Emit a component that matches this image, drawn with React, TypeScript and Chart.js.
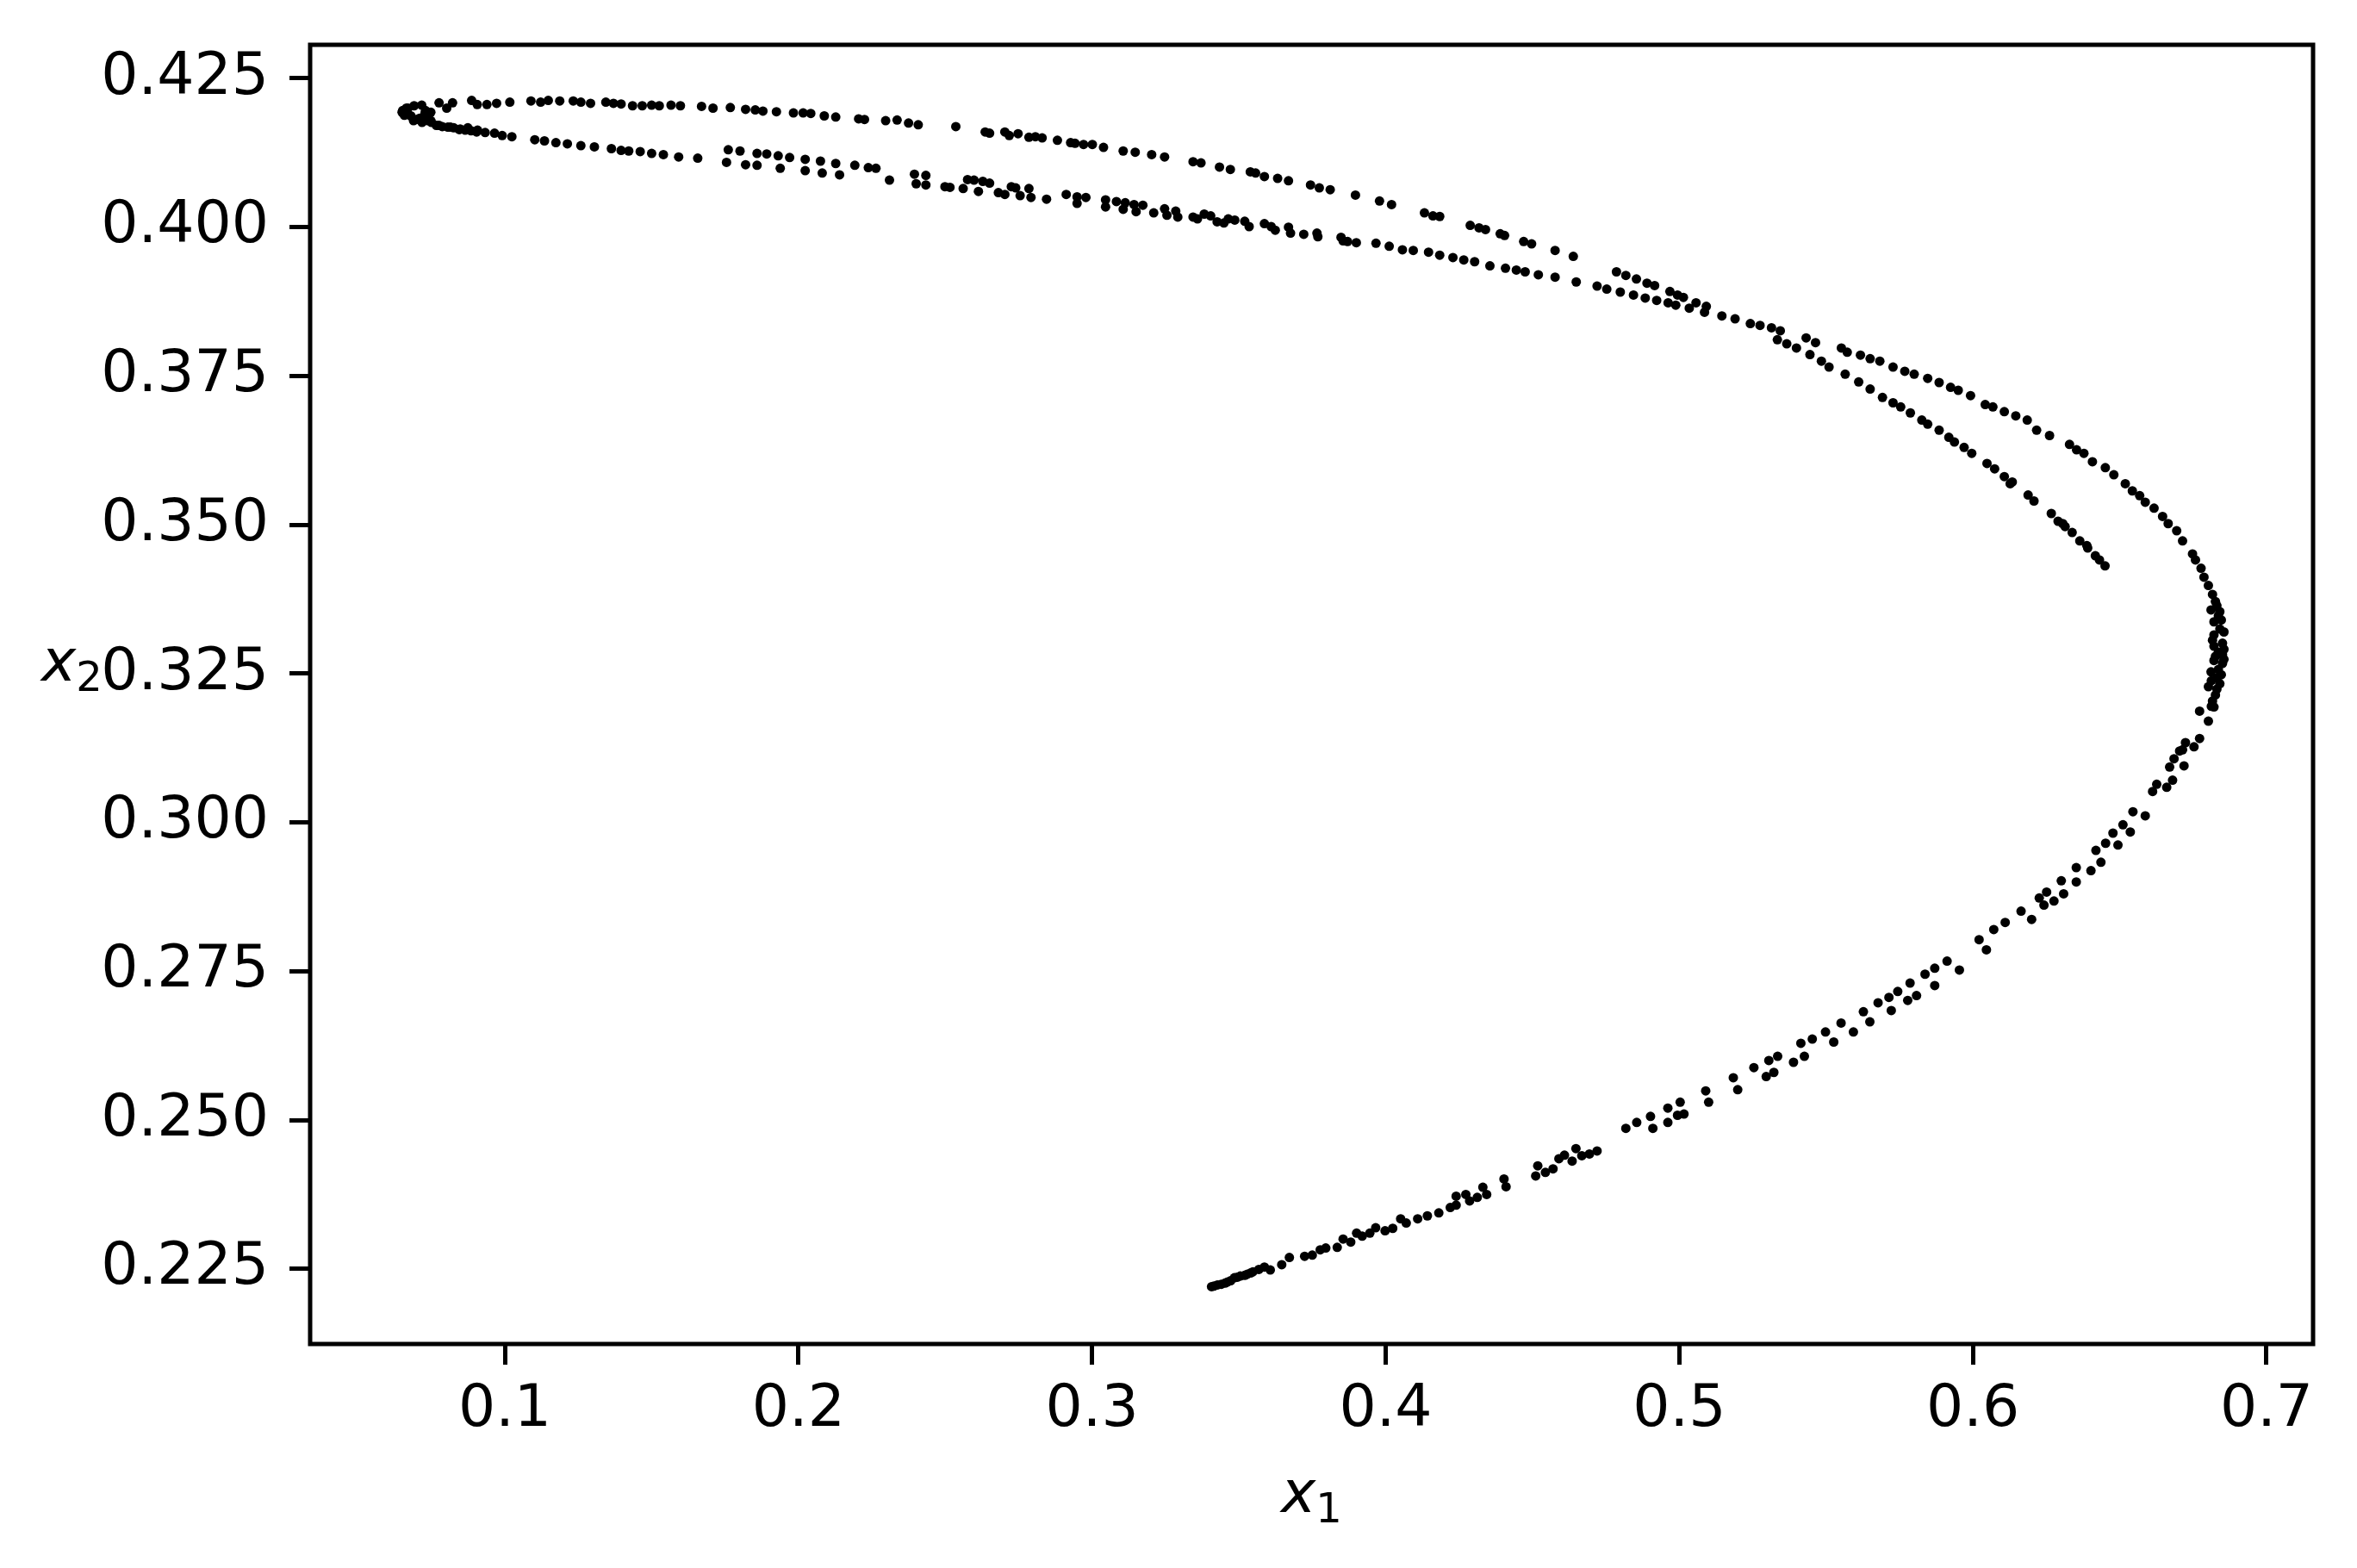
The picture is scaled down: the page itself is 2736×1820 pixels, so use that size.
import React, { useEffect, useRef } from "react";
import { Chart, registerables } from "chart.js";

Chart.register(...registerables);

// Axis ticks and limits
const xTicks = [0.1, 0.2, 0.3, 0.4, 0.5, 0.6, 0.7];
const yTicks = [0.225, 0.25, 0.275, 0.3, 0.325, 0.35, 0.375, 0.4, 0.425];
const xLimits = [0.03369, 0.71585];
const yLimits = [0.21237, 0.43064];

// Upper outer arm (from the left tip towards the bend)
const topUpper: [number, number][] = [
  [0.065, 0.4193], [0.067, 0.42], [0.0728, 0.4191], [0.0748, 0.4193],
  [0.0652, 0.4196], [0.0665, 0.42], [0.0691, 0.4204], [0.0717, 0.4205], [0.073, 0.4196], [0.0776, 0.4209], [0.0802, 0.42],
  [0.0822, 0.4209], [0.0887, 0.4213], [0.0906, 0.4206], [0.0939, 0.4206], [0.0972, 0.4208], [0.1017, 0.421],
  [0.1089, 0.4212], [0.1122, 0.421], [0.1148, 0.4213], [0.1187, 0.4212], [0.1233, 0.4212], [0.1259, 0.421],
  [0.1292, 0.4208], [0.1344, 0.421], [0.137, 0.4208], [0.1396, 0.4207], [0.1435, 0.4204], [0.1468, 0.4204],
  [0.15, 0.4205], [0.1526, 0.4204], [0.1566, 0.4205], [0.1598, 0.4204], [0.167, 0.4203], [0.1709, 0.42],
  [0.1768, 0.4201], [0.182, 0.4198], [0.1853, 0.4197], [0.1879, 0.4195], [0.1925, 0.4194], [0.1983, 0.4192],
  [0.2016, 0.4192], [0.2042, 0.4191], [0.2088, 0.4187], [0.2127, 0.4185], [0.2205, 0.4182], [0.2225, 0.4181],
  [0.2297, 0.4179], [0.2336, 0.418], [0.2375, 0.4175], [0.2408, 0.4172],
  [0.2536, 0.4169], [0.2636, 0.416], [0.2651, 0.4158], [0.2703, 0.416], [0.2718, 0.4154], [0.2748, 0.4157],
  [0.2785, 0.4151], [0.2807, 0.4152], [0.283, 0.415], [0.2882, 0.4146], [0.2927, 0.4142], [0.2942, 0.4141],
  [0.2971, 0.4139], [0.3001, 0.4139], [0.3039, 0.4134], [0.3106, 0.4128], [0.3147, 0.4126], [0.3203, 0.4122],
  [0.3247, 0.4118], [0.3344, 0.411], [0.3371, 0.4108], [0.3434, 0.4101], [0.3471, 0.4097], [0.3539, 0.4093],
  [0.3557, 0.4091], [0.3587, 0.4085], [0.3632, 0.4082], [0.3669, 0.4078], [0.3744, 0.4071], [0.3774, 0.4066],
  [0.3811, 0.4063], [0.3897, 0.4054], [0.3979, 0.4044], [0.402, 0.4038], [0.4132, 0.4024], [0.4161, 0.4019],
  [0.4184, 0.4018], [0.4288, 0.4003], [0.4318, 0.3999], [0.434, 0.3996], [0.439, 0.3989], [0.4405, 0.3986],
  [0.447, 0.3976], [0.4497, 0.3972], [0.4577, 0.3961], [0.4639, 0.3951],
  [0.4786, 0.3925], [0.4818, 0.3919], [0.4854, 0.3913], [0.489, 0.3906], [0.4916, 0.3902], [0.4968, 0.3892],
  [0.4994, 0.3886], [0.5014, 0.3882], [0.5057, 0.3873], [0.5092, 0.3867],
];

// Lower arm near the tip
const topLower: [number, number][] = [
  [0.066, 0.4193], [0.067, 0.419], [0.068, 0.4187], [0.071, 0.4183], [0.075, 0.4176],
  [0.0689, 0.4179], [0.0718, 0.4176], [0.0748, 0.4179], [0.0767, 0.4171], [0.0787, 0.4169], [0.0806, 0.4168],
  [0.0826, 0.4167], [0.0845, 0.4164], [0.0865, 0.4163], [0.0885, 0.4162], [0.0904, 0.416],
  [0.0658, 0.4188], [0.0698, 0.4181], [0.0737, 0.4179], [0.0776, 0.4171], [0.0815, 0.4168], [0.0848, 0.4165],
  [0.0874, 0.4167], [0.0907, 0.4163], [0.0933, 0.4159], [0.0965, 0.4158], [0.0991, 0.4154], [0.1024, 0.4152],
  [0.1102, 0.4147], [0.1135, 0.4145], [0.1174, 0.4142], [0.1213, 0.414], [0.1259, 0.4137], [0.1305, 0.4135],
  [0.1363, 0.4132], [0.1396, 0.4129], [0.1422, 0.4128], [0.1461, 0.4127], [0.15, 0.4124], [0.154, 0.4122],
  [0.1592, 0.4118], [0.1657, 0.4116],
];

// Lower arm, upper strand
const splitA: [number, number][] = [
  [0.1761, 0.413], [0.1801, 0.4128], [0.1859, 0.4124], [0.1892, 0.4123], [0.1931, 0.412], [0.197, 0.4117],
  [0.2023, 0.4114], [0.2075, 0.4111], [0.2127, 0.4107], [0.2192, 0.4104], [0.2238, 0.41], [0.2264, 0.4099],
  [0.2395, 0.4089], [0.2434, 0.4087],
  [0.2576, 0.408], [0.2598, 0.4079], [0.2628, 0.4077], [0.2651, 0.4074], [0.2725, 0.4068], [0.274, 0.4066],
  [0.2785, 0.4065], [0.2912, 0.4055], [0.2949, 0.4051], [0.2979, 0.405], [0.3046, 0.4046], [0.3083, 0.4043],
  [0.3113, 0.4041], [0.3143, 0.4038], [0.3173, 0.4037], [0.3247, 0.4031], [0.3285, 0.4027], [0.3344, 0.4017],
  [0.3382, 0.4022], [0.3404, 0.4019], [0.3464, 0.4014], [0.3486, 0.4012], [0.352, 0.401], [0.3587, 0.4006],
  [0.361, 0.4001], [0.3669, 0.4], [0.3766, 0.399], [0.3848, 0.3983], [0.39, 0.3974], [0.3967, 0.3973],
  [0.4012, 0.3968], [0.4057, 0.3962], [0.4094, 0.3961], [0.4146, 0.3958], [0.4184, 0.3953], [0.4229, 0.3949],
  [0.4266, 0.3945], [0.4303, 0.3942], [0.4355, 0.3935], [0.4408, 0.3931], [0.4445, 0.3928], [0.4475, 0.3925],
  [0.452, 0.392],
];

// Lower arm, lower strand
const splitB: [number, number][] = [
  [0.1755, 0.4109], [0.182, 0.4105], [0.1859, 0.4104], [0.1938, 0.4099], [0.2023, 0.4095], [0.2081, 0.4091],
  [0.214, 0.4088], [0.231, 0.4079], [0.2401, 0.4073], [0.2434, 0.4071], [0.2499, 0.4068],
  [0.2516, 0.4067], [0.2561, 0.4065], [0.2613, 0.406], [0.2681, 0.4058], [0.2703, 0.4055], [0.2755, 0.4053],
  [0.2792, 0.405], [0.2845, 0.4047], [0.2949, 0.404], [0.3046, 0.4034], [0.3106, 0.403], [0.315, 0.4026],
  [0.321, 0.4024], [0.3255, 0.402], [0.3292, 0.4017], [0.3359, 0.4014], [0.3426, 0.4009], [0.3449, 0.4007],
  [0.3535, 0.4001], [0.3624, 0.3995], [0.3676, 0.399], [0.3721, 0.3988], [0.3769, 0.3984], [0.3855, 0.3977],
  [0.387, 0.3976],
];

// Merged band before the fork
const band: [number, number][] = [
  [0.4577, 0.3916], [0.4649, 0.3908], [0.472, 0.3901], [0.4753, 0.3896], [0.4799, 0.3891], [0.4844, 0.3886],
  [0.4884, 0.3881], [0.4923, 0.3877], [0.4962, 0.3873], [0.4988, 0.3869], [0.5034, 0.3864], [0.5086, 0.3857],
  [0.5145, 0.3851], [0.519, 0.3846], [0.5242, 0.3838], [0.5275, 0.3835], [0.5314, 0.3831], [0.5344, 0.3826],
];

// Outer curve around the right bend
const outerBend: [number, number][] = [
  [0.5432, 0.3814], [0.5464, 0.3806], [0.5552, 0.3797], [0.5572, 0.379], [0.5617, 0.3785], [0.565, 0.3779],
  [0.5683, 0.3775], [0.5728, 0.3765], [0.5768, 0.3758], [0.58, 0.3753], [0.5846, 0.3746], [0.5885, 0.3739],
  [0.5924, 0.3731], [0.595, 0.3726], [0.5992, 0.3717], [0.6042, 0.3702], [0.6068, 0.3698], [0.6107, 0.369],
  [0.6146, 0.3683], [0.6185, 0.3676],
  [0.6217, 0.3659], [0.6261, 0.365], [0.6329, 0.3635], [0.6353, 0.3626], [0.6378, 0.362], [0.6407, 0.3606],
  [0.6451, 0.3596], [0.648, 0.3584], [0.6519, 0.3569], [0.6543, 0.3557], [0.6568, 0.3549], [0.6587, 0.3538],
  [0.6617, 0.3528], [0.6646, 0.3514], [0.6665, 0.3502], [0.6694, 0.349], [0.6714, 0.3473], [0.6748, 0.3451],
  [0.6758, 0.3441], [0.6777, 0.3427], [0.6787, 0.3412], [0.6802, 0.3398], [0.6816, 0.3383], [0.6826, 0.3371],
  [0.6811, 0.3357], [0.6836, 0.3347], [0.6821, 0.3337], [0.6841, 0.3325], [0.6821, 0.3315], [0.685, 0.3301],
  [0.6821, 0.3296], [0.685, 0.3282], [0.6821, 0.3272], [0.685, 0.3267], [0.6811, 0.3253], [0.6846, 0.3248],
  [0.6802, 0.3228], [0.6841, 0.3233], [0.6826, 0.3214], [0.6821, 0.3194], [0.6772, 0.3187], [0.6802, 0.317],
  [0.6772, 0.3141], [0.6753, 0.3127], [0.6724, 0.3134], [0.6714, 0.3122], [0.6704, 0.312], [0.6685, 0.3107],
  [0.6719, 0.3095], [0.667, 0.3093], [0.668, 0.3071], [0.6626, 0.3064], [0.666, 0.3059],
  [0.6831, 0.3364], [0.6841, 0.3354], [0.6846, 0.334], [0.6855, 0.332], [0.6816, 0.3306], [0.6855, 0.3291],
  [0.6836, 0.3286], [0.6826, 0.3279], [0.6855, 0.3274], [0.6836, 0.3257], [0.6831, 0.3243], [0.6812, 0.3238],
  [0.6831, 0.3224], [0.6816, 0.3204], [0.6812, 0.3195],
];

// Inner strand that ends inside the bend
const innerBend: [number, number][] = [
  [0.5334, 0.3811], [0.5366, 0.3804], [0.5399, 0.3797], [0.5445, 0.3786], [0.5484, 0.3775], [0.551, 0.3765],
  [0.5565, 0.3753], [0.5611, 0.374], [0.565, 0.3728], [0.5692, 0.3714], [0.5728, 0.3705], [0.5754, 0.3698],
  [0.5787, 0.3688], [0.5826, 0.3676], [0.5846, 0.3669], [0.5885, 0.3659], [0.5918, 0.3647], [0.5937, 0.3639],
  [0.597, 0.363], [0.5996, 0.362], [0.6048, 0.3603], [0.6074, 0.3594], [0.6107, 0.3581], [0.6127, 0.3569],
  [0.6134, 0.3572], [0.6188, 0.355], [0.6208, 0.354], [0.6267, 0.3519], [0.629, 0.3506], [0.6306, 0.3502],
  [0.6314, 0.3497], [0.6338, 0.3487], [0.6364, 0.3473], [0.6388, 0.3465], [0.6391, 0.3461], [0.6417, 0.3448],
  [0.6431, 0.3441], [0.645, 0.3431],
];

// Lower arm, two strands (right part)
const lowA: [number, number][] = [
  [0.4818, 0.2486], [0.4855, 0.2496], [0.4902, 0.2506], [0.4961, 0.252], [0.5003, 0.253], [0.509, 0.2549],
  [0.5184, 0.2571], [0.5254, 0.2588], [0.5305, 0.26], [0.5335, 0.2607], [0.5414, 0.2629], [0.5453, 0.2636],
  [0.5498, 0.2648], [0.5551, 0.2663], [0.5627, 0.2682], [0.5677, 0.2697], [0.5714, 0.2706], [0.5744, 0.2716],
  [0.5786, 0.273], [0.5837, 0.2745], [0.587, 0.2755], [0.5912, 0.2767], [0.6021, 0.2803], [0.6071, 0.282],
  [0.611, 0.2832], [0.6164, 0.2851], [0.6226, 0.2873], [0.6251, 0.2883], [0.6301, 0.2902], [0.6352, 0.2924],
  [0.6419, 0.2953], [0.6452, 0.2965], [0.6477, 0.2982], [0.6511, 0.2996], [0.6545, 0.3018], [0.6612, 0.3052],
];
const lowB: [number, number][] = [
  [0.491, 0.2486], [0.4961, 0.2496], [0.4994, 0.2508], [0.5016, 0.251], [0.51, 0.253], [0.5199, 0.2551],
  [0.5296, 0.2573], [0.5322, 0.258], [0.5389, 0.2597], [0.5426, 0.2607], [0.5526, 0.2631], [0.5593, 0.2648],
  [0.5649, 0.2665], [0.5722, 0.2684], [0.5778, 0.2701], [0.5808, 0.2709], [0.587, 0.2726], [0.5954, 0.2752],
  [0.6046, 0.2786], [0.62, 0.2837], [0.6242, 0.2861], [0.6276, 0.2868], [0.6309, 0.288], [0.6352, 0.29],
  [0.6402, 0.2919], [0.6436, 0.2933], [0.6494, 0.2962], [0.6536, 0.2984], [0.6587, 0.3011],
];

// Lower arm, left end
const lowEnd: [number, number][] = [
  [0.3407, 0.222], [0.3415, 0.2221], [0.3427, 0.2223], [0.344, 0.2224], [0.3453, 0.2226], [0.3462, 0.2228],
  [0.3472, 0.223], [0.3485, 0.2235], [0.3495, 0.2236], [0.3505, 0.2238], [0.352, 0.2239], [0.3529, 0.2241],
  [0.354, 0.2243], [0.3548, 0.2245], [0.3568, 0.2249], [0.3587, 0.2253], [0.3607, 0.2248], [0.3646, 0.2257],
  [0.3672, 0.2269], [0.3724, 0.2271], [0.375, 0.2273], [0.3777, 0.2282], [0.3796, 0.2285], [0.3835, 0.2286],
  [0.3855, 0.23], [0.3881, 0.2295], [0.3901, 0.231], [0.392, 0.2305], [0.3946, 0.231], [0.3966, 0.2319],
  [0.3998, 0.2314], [0.4024, 0.2318], [0.4051, 0.2334], [0.407, 0.2327], [0.4109, 0.2334], [0.4142, 0.2339],
  [0.4181, 0.2344], [0.422, 0.2353], [0.424, 0.2372], [0.424, 0.2357], [0.4273, 0.2375], [0.4286, 0.2364],
  [0.4312, 0.237], [0.4331, 0.2387], [0.4344, 0.2375], [0.4403, 0.2401], [0.441, 0.2388], [0.4511, 0.2406],
  [0.4518, 0.2423], [0.4544, 0.2412], [0.457, 0.2418], [0.459, 0.2435], [0.4609, 0.2441], [0.4635, 0.2431],
  [0.4648, 0.2452], [0.4668, 0.244], [0.4694, 0.2443], [0.472, 0.2448],
];

const branches = [topUpper, topLower, splitA, splitB, band, outerBend, innerBend, lowA, lowB, lowEnd];

const FONT = "'DejaVu Sans', 'Liberation Sans', sans-serif";

const labelPlugin = {
  id: "frameAndLabels",
  afterDraw(chart: any) {
    const { ctx, chartArea: a } = chart;
    ctx.save();
    ctx.strokeStyle = "#000";
    ctx.lineWidth = 5;
    ctx.strokeRect(a.left, a.top, a.right - a.left, a.bottom - a.top);
    ctx.fillStyle = "#000";
    ctx.textAlign = "left";
    ctx.textBaseline = "alphabetic";
    // x label: x_1
    const cx = (a.left + a.right) / 2;
    ctx.font = `italic 68px ${FONT}`;
    const wx = ctx.measureText("x").width;
    ctx.font = `48px ${FONT}`;
    const w1 = ctx.measureText("1").width;
    const start = cx - (wx + w1) / 2;
    ctx.font = `italic 68px ${FONT}`;
    ctx.fillText("x", start, 1755);
    ctx.font = `48px ${FONT}`;
    ctx.fillText("1", start + wx, 1767);
    // y label: x_2 (horizontal)
    ctx.font = `italic 68px ${FONT}`;
    ctx.fillText("x", 48, 790);
    ctx.font = `48px ${FONT}`;
    ctx.fillText("2", 48 + wx, 802);
    ctx.restore();
  },
};

export default function App() {
  const ref = useRef<HTMLCanvasElement | null>(null);
  useEffect(() => {
    if (!ref.current) return;
    const points = branches.flat().map(([x, y]) => ({ x, y }));
    const chart = new Chart(ref.current, {
      type: "scatter",
      data: {
        datasets: [
          {
            data: points,
            pointRadius: 5.5,
            pointHoverRadius: 5.5,
            pointBackgroundColor: "#000",
            pointBorderWidth: 0,
            showLine: false,
          },
        ],
      },
      options: {
        responsive: false,
        animation: false,
        devicePixelRatio: 1,
        layout: { padding: { top: 52, right: 51, left: 0, bottom: 0 } },
        plugins: { legend: { display: false }, tooltip: { enabled: false } },
        scales: {
          x: {
            type: "linear",
            min: xLimits[0],
            max: xLimits[1],
            afterBuildTicks: (s: any) => {
              s.ticks = xTicks.map((v) => ({ value: v }));
            },
            afterFit: (s: any) => {
              s.height = 260;
              s.paddingLeft = 0;
              s.paddingRight = 0;
            },
            grid: { drawOnChartArea: false, drawTicks: true, tickLength: 24, tickWidth: 5, tickColor: "#000" },
            border: { display: false },
            ticks: {
              font: { size: 68, family: FONT },
              color: "#000",
              padding: 13,
              maxRotation: 0,
              autoSkip: false,
              callback: (v: any) => Number(v).toFixed(1),
            },
          },
          y: {
            type: "linear",
            min: yLimits[0],
            max: yLimits[1],
            afterBuildTicks: (s: any) => {
              s.ticks = yTicks.map((v) => ({ value: v }));
            },
            afterFit: (s: any) => {
              s.width = 360;
              s.paddingTop = 0;
              s.paddingBottom = 0;
            },
            grid: { drawOnChartArea: false, drawTicks: true, tickLength: 24, tickWidth: 5, tickColor: "#000" },
            border: { display: false },
            ticks: {
              font: { size: 68, family: FONT },
              color: "#000",
              padding: 24,
              autoSkip: false,
              callback: (v: any) => Number(v).toFixed(3),
            },
          },
        },
      },
      plugins: [labelPlugin],
    });
    return () => chart.destroy();
  }, []);

  return (
    <div style={{ position: "absolute", left: 0, top: 0, width: 2736, height: 1820, background: "#fff" }}>
      <canvas ref={ref} width={2736} height={1820} style={{ width: 2736, height: 1820, display: "block" }} />
    </div>
  );
}
